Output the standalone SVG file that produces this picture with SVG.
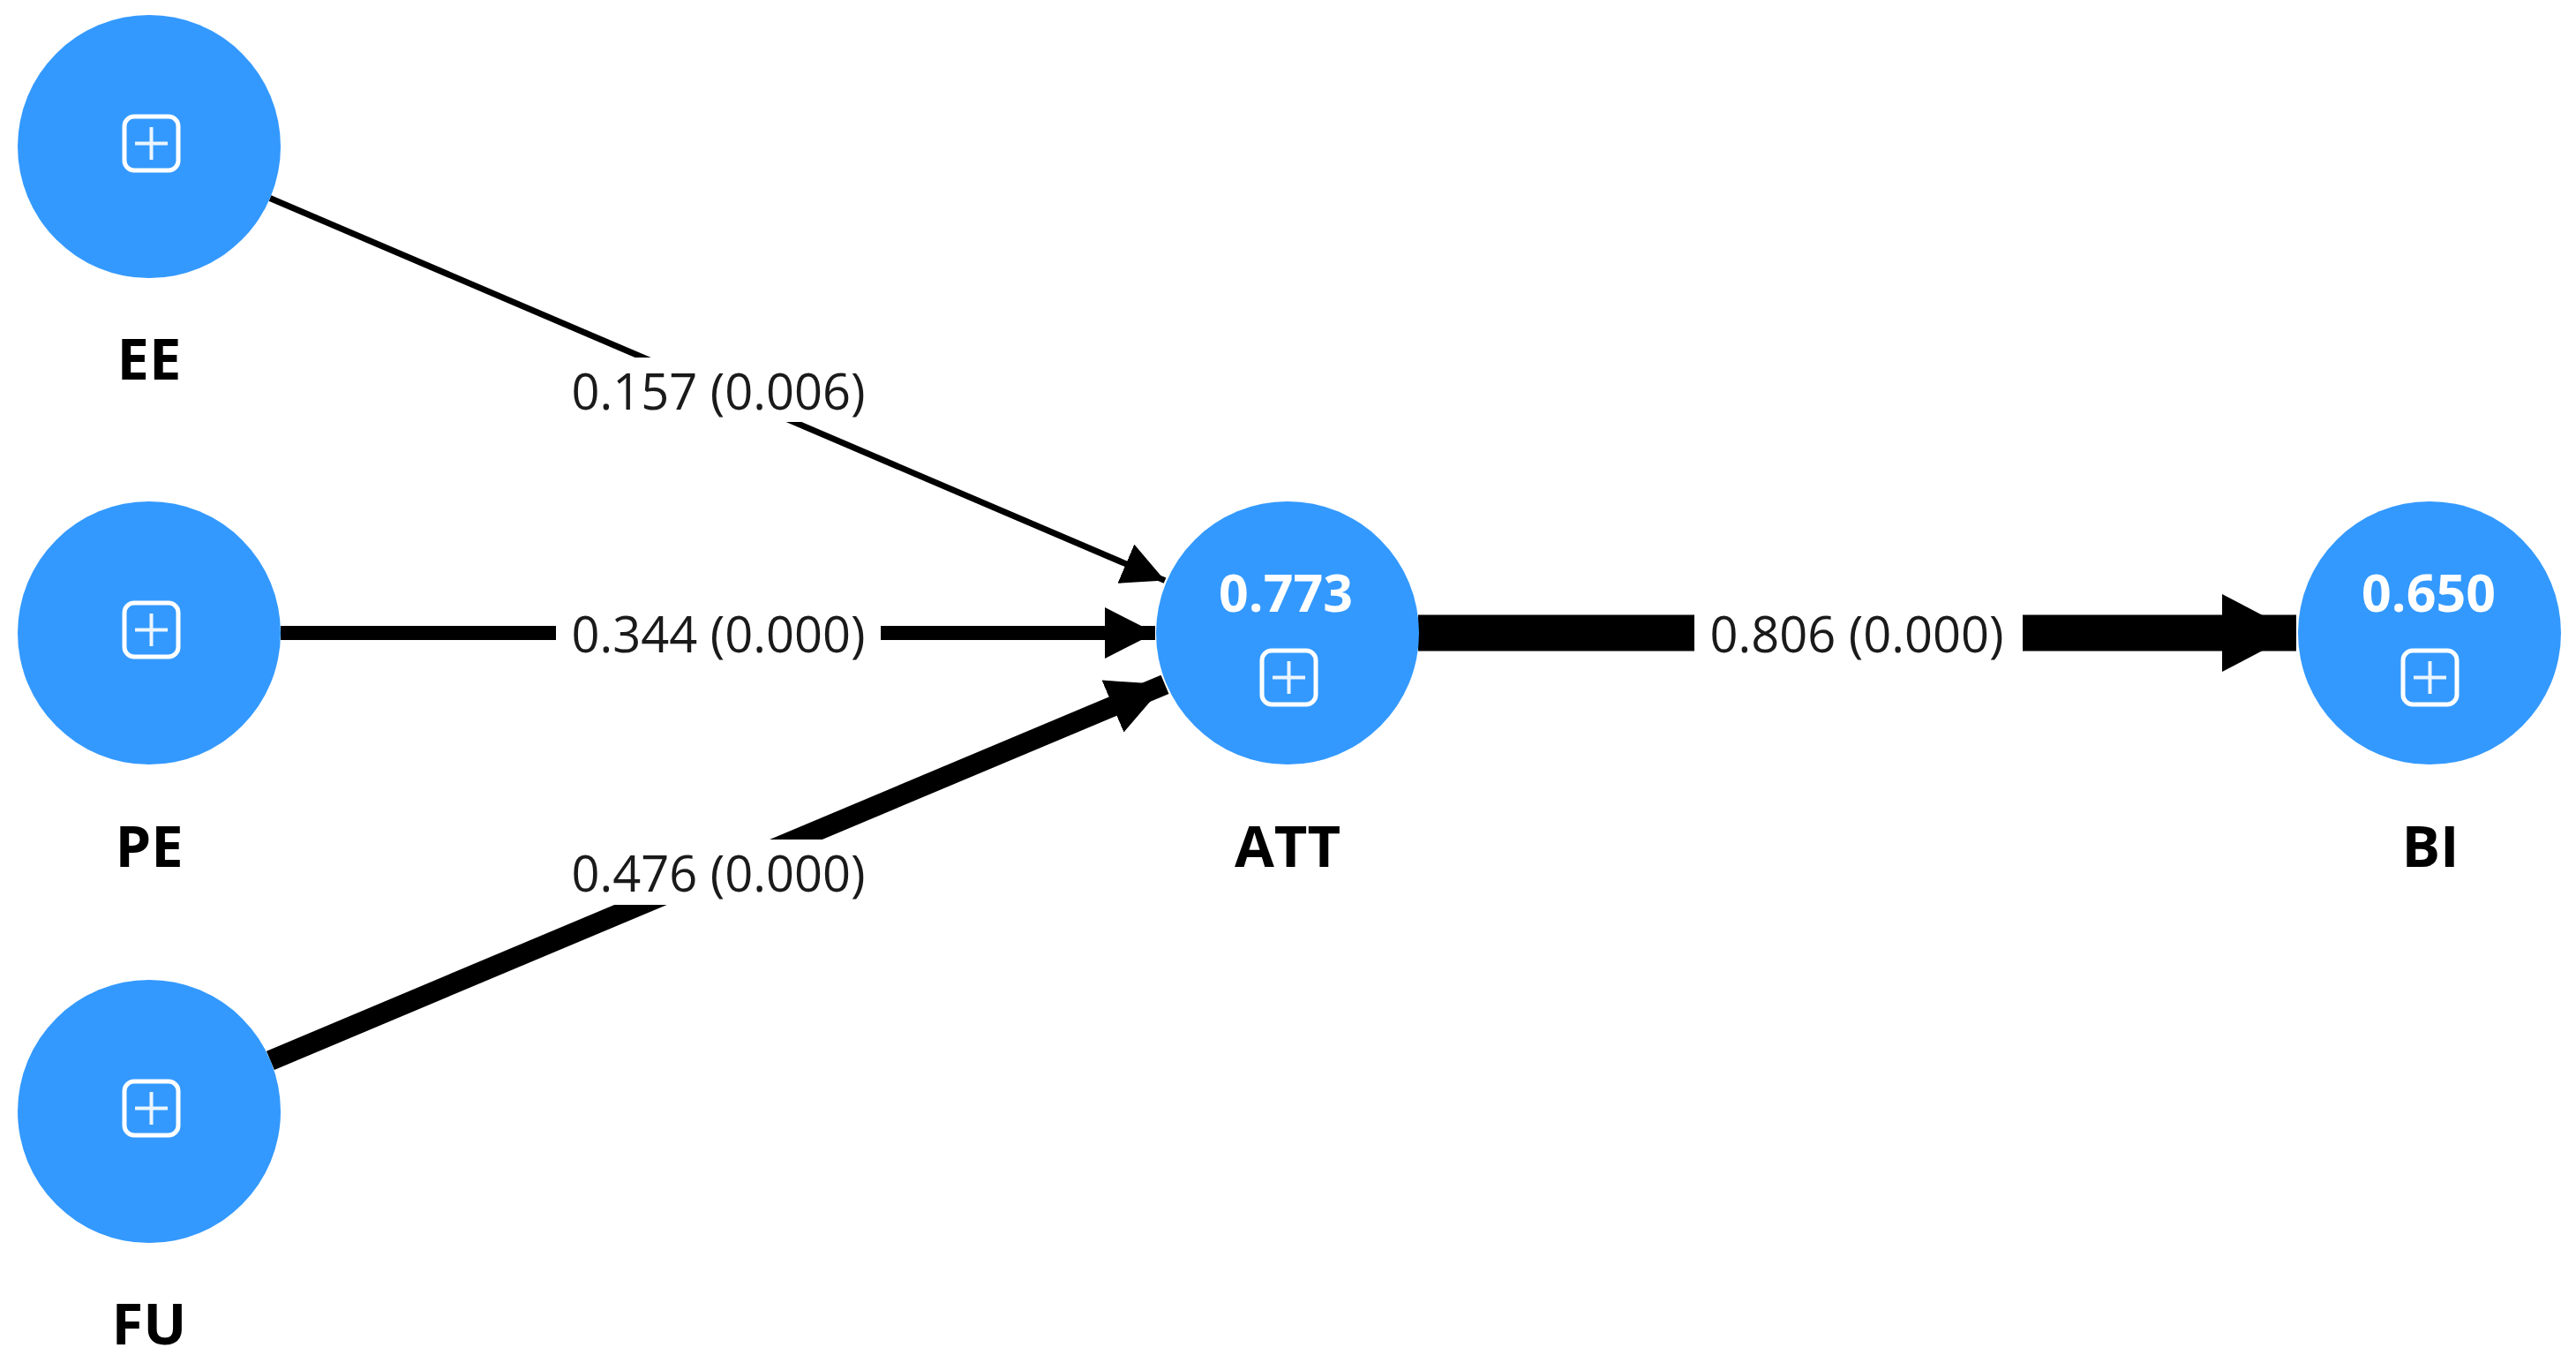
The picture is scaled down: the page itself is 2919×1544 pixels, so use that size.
<svg xmlns="http://www.w3.org/2000/svg" xmlns:xlink="http://www.w3.org/1999/xlink" width="2919" height="1544" viewBox="0 0 2919 1544">
<style>
.node{fill:#3399ff}
.name{font-family:"Open Sans","Noto Sans","Liberation Sans",sans-serif;font-weight:bold;font-size:65px;fill:#000;text-anchor:middle}
.val{font-family:"Open Sans","Noto Sans","Liberation Sans",sans-serif;font-weight:bold;font-size:59px;fill:#fff;text-anchor:middle}
.elab{font-family:"Open Sans","Noto Sans","Liberation Sans",sans-serif;font-size:56px;fill:#1a1a1a;text-anchor:middle}
.lbg{fill:#fff}
.edge{stroke:#000;fill:none}
</style>
<defs>
<g id="icon">
<rect x="-30" y="-30" width="61" height="61" rx="11" fill="none" stroke="#fff" stroke-width="5"/>
<path d="M-18 0.5H19M0.5 -18V19" stroke="#fff" stroke-opacity="0.9" stroke-width="4"/>
</g>
<marker id="a1" markerUnits="userSpaceOnUse" markerWidth="52" markerHeight="52" refX="48" refY="24" orient="auto" viewBox="0 0 52 52"><path d="M0 0L48 24L0 48Z" fill="#000"/></marker>
<marker id="a2" markerUnits="userSpaceOnUse" markerWidth="62" markerHeight="62" refX="57" refY="29" orient="auto" viewBox="0 0 62 62"><path d="M0 0L57 29L0 58Z" fill="#000"/></marker>
<marker id="a3" markerUnits="userSpaceOnUse" markerWidth="70" markerHeight="70" refX="64" refY="32" orient="auto" viewBox="0 0 70 70"><path d="M0 0L64 32L0 64Z" fill="#000"/></marker>
<marker id="a4" markerUnits="userSpaceOnUse" markerWidth="90" markerHeight="90" refX="84" refY="44" orient="auto" viewBox="0 0 90 90"><path d="M0 0L84 44L0 88Z" fill="#000"/></marker>
</defs>
<rect width="2919" height="1544" fill="#fff"/>
<g id="connectors">
<line class="edge" x1="306" y1="224.5" x2="1320" y2="657.6" stroke-width="7" marker-end="url(#a1)"/>
<line class="edge" x1="318" y1="717" x2="1309" y2="717" stroke-width="16" marker-end="url(#a2)"/>
<line class="edge" x1="306.4" y1="1201.3" x2="1320" y2="775.3" stroke-width="23" marker-end="url(#a3)"/>
<line class="edge" x1="1607" y1="717" x2="2602" y2="717" stroke-width="41" marker-end="url(#a4)"/>
<rect class="lbg" x="630" y="405" width="368" height="73"/>
<text class="elab" x="814" y="464">0.157 (0.006)</text>
<rect class="lbg" x="630" y="680" width="368" height="74"/>
<text class="elab" x="814" y="739">0.344 (0.000)</text>
<rect class="lbg" x="630" y="951" width="368" height="74"/>
<text class="elab" x="814" y="1010">0.476 (0.000)</text>
<rect class="lbg" x="1920" y="680" width="372" height="74"/>
<text class="elab" x="2104" y="739">0.806 (0.000)</text>
</g>
<g id="EE">
<circle class="node" cx="169" cy="166" r="149"/>
<use xlink:href="#icon" x="171" y="162"/>
<text class="name" x="169" y="430">EE</text>
</g>
<g id="PE">
<circle class="node" cx="169" cy="717" r="149"/>
<use xlink:href="#icon" x="171" y="713"/>
<text class="name" x="169" y="982">PE</text>
</g>
<g id="FU">
<circle class="node" cx="169" cy="1259" r="149"/>
<use xlink:href="#icon" x="171" y="1255"/>
<text class="name" x="169" y="1523">FU</text>
</g>
<g id="ATT">
<circle class="node" cx="1459" cy="717" r="149"/>
<text class="val" x="1457" y="693">0.773</text>
<use xlink:href="#icon" x="1460" y="767"/>
<text class="name" x="1459" y="982">ATT</text>
</g>
<g id="BI">
<circle class="node" cx="2753" cy="717" r="149"/>
<text class="val" x="2752" y="693">0.650</text>
<use xlink:href="#icon" x="2753" y="767"/>
<text class="name" x="2754" y="982">BI</text>
</g>
</svg>
